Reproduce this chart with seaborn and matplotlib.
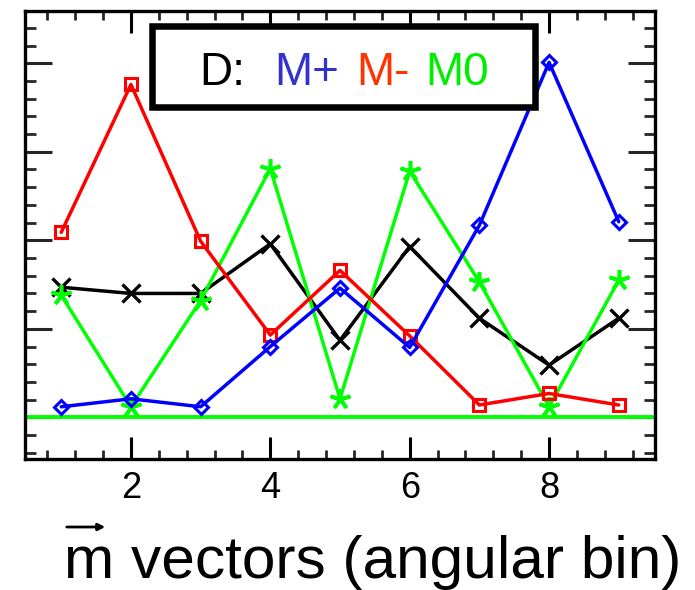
import numpy as np
import pandas as pd
import matplotlib
matplotlib.use("Agg")
import matplotlib.pyplot as plt
from matplotlib.patches import Rectangle, FancyArrowPatch
from matplotlib.ticker import MultipleLocator
import seaborn as sns

# angular bins and the four curves
bins = [1, 2, 3, 4, 5, 6, 7, 8, 9]
m_plus = [0.12, 0.21, 0.12, 0.80, 1.46, 0.79, 2.17, 4.01, 2.21]
m_minus = [2.09, 3.76, 1.99, 0.93, 1.66, 0.92, 0.14, 0.27, 0.14]
total = [1.47, 1.40, 1.40, 1.96, 0.87, 1.93, 1.12, 0.59, 1.12]
m_zero = [1.38, 0.12, 1.32, 2.81, 0.21, 2.78, 1.53, 0.12, 1.55]
xtick_values = [2, 4, 6, 8]
xtick_labels = ["2", "4", "6", "8"]

sns.set_style("white")
plt.rcParams["font.family"] = ["Liberation Sans", "DejaVu Sans"]

W, H = 695, 590
fig = plt.figure(figsize=(W / 100, H / 100), dpi=100)
fig.patch.set_facecolor("white")

left, right, top, bottom = 25, 655, 11, 459
ax = fig.add_axes([left / W, 1 - bottom / H, (right - left) / W, (bottom - top) / H])

df = pd.DataFrame({"bin": bins, "plus": m_plus, "minus": m_minus,
                   "total": total, "zero": m_zero})

lw = 2.5
ax.axhline(0, color=(0, 1, 0), lw=2.8, zorder=1)

sns.lineplot(data=df, x="bin", y="total", ax=ax, color="black", lw=lw,
             marker="x", markersize=13, markeredgecolor="black",
             markeredgewidth=2.4, zorder=2)
sns.lineplot(data=df, x="bin", y="zero", ax=ax, color=(0, 1, 0), lw=lw,
             marker=(5, 2, 0), markersize=15, markeredgecolor=(0, 1, 0),
             markeredgewidth=2.6, zorder=3)
sns.lineplot(data=df, x="bin", y="minus", ax=ax, color=(1, 0, 0), lw=lw,
             marker="s", markersize=9, markerfacecolor="none",
             markeredgecolor=(1, 0, 0), markeredgewidth=2.2, zorder=4)
sns.lineplot(data=df, x="bin", y="plus", ax=ax, color=(0, 0, 1), lw=lw,
             marker="D", markersize=7, markerfacecolor="none",
             markeredgecolor=(0, 0, 1), markeredgewidth=2.2, zorder=5)

ax.set_xlim(0.48, 9.52)
ax.set_ylim(-0.47, 4.59)
ax.set_xticks(xtick_values)
ax.set_xticklabels(xtick_labels)
ax.xaxis.set_minor_locator(MultipleLocator(0.4))
ax.yaxis.set_major_locator(MultipleLocator(1))
ax.yaxis.set_minor_locator(MultipleLocator(0.2))
ax.set_yticklabels([])
ax.set_xlabel("")
ax.set_ylabel("")

ax.tick_params(axis="x", which="major", direction="in", length=16, width=2.2,
               top=True, bottom=True, labelsize=26, pad=9, colors="black")
ax.tick_params(axis="x", which="minor", direction="in", length=6.5, width=2.0,
               top=True, bottom=True)
ax.tick_params(axis="y", which="major", direction="in", length=19.5, width=2.2,
               left=True, right=True, labelleft=False)
ax.tick_params(axis="y", which="minor", direction="in", length=8, width=2.0,
               left=True, right=True)
for sp in ax.spines.values():
    sp.set_visible(True)
    sp.set_color("black")
    sp.set_linewidth(2.4)
ax.set_facecolor("white")

# key box with coloured labels
bx0, bx1, by0, by1 = 152, 535, 26, 107
fig.add_artist(Rectangle((bx0 / W, 1 - by1 / H), (bx1 - bx0) / W, (by1 - by0) / H,
                         transform=fig.transFigure, facecolor="white",
                         edgecolor="black", lw=4.7, zorder=10))
base = 1 - 85 / H
for label, xpx, col in [("D:", 199, "black"), ("M+", 274, "#3333cc"),
                        ("M-", 356, "#ff3300"), ("M0", 425, "#00ee00")]:
    fig.text(xpx / W, base, label, color=col, fontsize=33, va="baseline",
             ha="left", zorder=11)

# axis title with a vector arrow above the m
fig.text(64 / W, 1 - 578 / H, "m vectors (angular bin)", fontsize=43.5,
         va="baseline", ha="left", color="black")
fig.add_artist(FancyArrowPatch((64 / W, 1 - 527 / H), (108 / W, 1 - 527 / H),
                               transform=fig.transFigure, arrowstyle="-|>",
                               mutation_scale=10, lw=2.0, color="black"))

fig.savefig("out.png", dpi=100, facecolor="white")
